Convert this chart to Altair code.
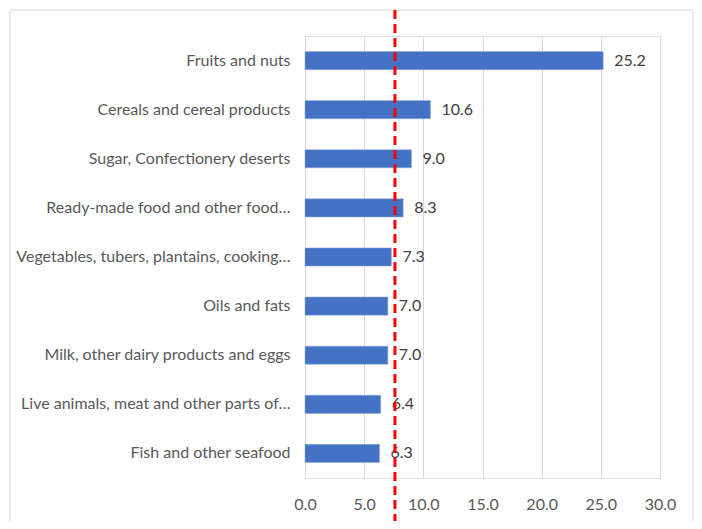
import altair as alt
import pandas as pd

categories = [
    "Fruits and nuts",
    "Cereals and cereal products",
    "Sugar, Confectionery deserts",
    "Ready-made food and other food…",
    "Vegetables, tubers, plantains, cooking…",
    "Oils and fats",
    "Milk, other dairy products and eggs",
    "Live animals, meat and other parts of…",
    "Fish and other seafood",
]
values = [25.2, 10.6, 9.0, 8.3, 7.3, 7.0, 7.0, 6.4, 6.3]
x_ticks = [0, 5, 10, 15, 20, 25, 30]
reference_value = 7.6

df = pd.DataFrame({"category": categories, "value": values})
ref = pd.DataFrame({"ref": [reference_value]})

FONT = "Lato"
W, H = 355, 442
PAD = {"left": 297, "top": 28, "right": 34, "bottom": 43}

x_enc = alt.X(
    "value:Q",
    scale=alt.Scale(domain=[0, 30], nice=False),
    axis=alt.Axis(
        values=x_ticks, format=".1f", title=None, domain=False, ticks=False,
        grid=True, gridColor="#d9d9d9", gridWidth=1, labelPadding=18,
        labelAlign="center", labelFlush=False,
        labelFont=FONT, labelFontSize=16, labelColor="#595959",
    ),
)
y_enc = alt.Y(
    "category:N",
    sort=categories,
    scale=alt.Scale(paddingInner=0.63, paddingOuter=0.315),
    axis=alt.Axis(
        title=None, domain=False, ticks=False, grid=False, labelPadding=15,
        labelFont=FONT, labelFontSize=16, labelColor="#595959", labelLimit=300,
    ),
)

border = alt.Chart(ref).mark_rect(
    fill=None, stroke="#d9d9d9", strokeWidth=1
).encode(
    x=alt.value(-295), x2=alt.value(W + 33), y=alt.value(-26), y2=alt.value(H + 80)
)

bars = alt.Chart(df).mark_bar(color="#4472C4", stroke="#8faadc", strokeWidth=0.5).encode(
    x=x_enc, y=y_enc
)

labels = alt.Chart(df).mark_text(
    align="left", baseline="middle", dx=11, font=FONT, fontSize=16, color="#404040"
).encode(
    x=alt.X("value:Q"),
    y=alt.Y("category:N", sort=categories),
    text=alt.Text("value:Q", format=".1f"),
)

rule = alt.Chart(ref).mark_rule(
    color="#ff0000", strokeWidth=3, strokeDash=[9, 5]
).encode(
    x=alt.X("ref:Q"), y=alt.value(-26), y2=alt.value(H + 43)
)

chart = alt.layer(border, bars, labels, rule).properties(
    width=W, height=H, padding=PAD, autosize=alt.AutoSizeParams(type="none")
).configure_view(stroke=None).configure(background="white")

chart.save("out.html", embed_options={"renderer": "svg", "actions": False})
